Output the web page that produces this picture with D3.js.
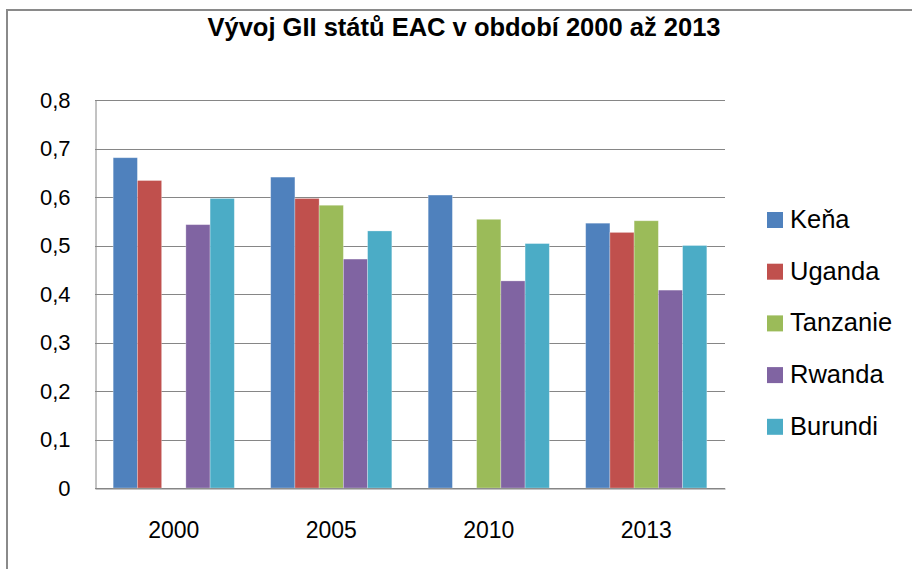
<!DOCTYPE html>
<html>
<head>
<meta charset="utf-8">
<script src="https://cdn.jsdelivr.net/npm/d3@7"></script>
<style>
  body { margin: 0; background: #fff; }
  text { font-family: "Liberation Sans", Arial, sans-serif; fill: #000; }
</style>
</head>
<body>
<div id="chart-area"></div>
<script>
var width = 912;
var height = 569;

// data
var years = ["2000", "2005", "2010", "2013"];
var countries = ["Keňa", "Uganda", "Tanzanie", "Rwanda", "Burundi"];
var colors = ["#4F81BD", "#C0504D", "#9BBB59", "#8064A2", "#4BACC6"];
var kena     = [0.681, 0.641, 0.604, 0.546];
var uganda   = [0.634, 0.597, null, 0.527];
var tanzanie = [null, 0.583, 0.554, 0.551];
var rwanda   = [0.543, 0.472, 0.427, 0.408];
var burundi  = [0.597, 0.530, 0.504, 0.500];
var yTicks = [0, 0.1, 0.2, 0.3, 0.4, 0.5, 0.6, 0.7, 0.8];

var series = [kena, uganda, tanzanie, rwanda, burundi];

var plot = {left: 95, right: 725, top: 100, bottom: 488};

var svg = d3.select("#chart-area").append("svg")
	.attr("width", width)
	.attr("height", height);

// outer chart frame
svg.append("rect")
	.attr("x", 7)
	.attr("y", 10)
	.attr("width", 940)
	.attr("height", 600)
	.attr("fill", "none")
	.attr("stroke", "#8a8a8a")
	.attr("stroke-width", 2);

svg.append("text")
	.attr("x", 464)
	.attr("y", 36)
	.attr("text-anchor", "middle")
	.attr("font-size", "25.5px")
	.attr("font-weight", "bold")
	.text("Vývoj GII států EAC v období 2000 až 2013");

var x0 = d3.scaleBand()
	.domain(years)
	.range([plot.left, plot.right]);

// 5 bars + gap of 1.5 bar widths per category
var bw = x0.bandwidth() / 6.5;
var x1 = d3.scaleBand()
	.domain(countries)
	.range([bw * 0.75, bw * 5.75]);

var y = d3.scaleLinear()
	.domain([0, 0.8])
	.range([plot.bottom, plot.top]);

// gridlines
svg.append("g")
	.selectAll("line")
	.data(yTicks)
	.enter()
	.append("line")
		.attr("x1", plot.left)
		.attr("x2", plot.right)
		.attr("y1", d => Math.round(y(d)) + 0.5)
		.attr("y2", d => Math.round(y(d)) + 0.5)
		.attr("stroke", "#868686")
		.attr("stroke-width", 1);

// bars
var rows = [];
years.forEach((yr, i) => {
	countries.forEach((c, j) => {
		if (series[j][i] != null) rows.push({year: yr, country: c, value: series[j][i], color: colors[j]});
	});
});

svg.append("g")
	.selectAll("rect")
	.data(rows)
	.enter()
	.append("rect")
		.attr("x", d => x0(d.year) + x1(d.country))
		.attr("y", d => y(d.value))
		.attr("width", x1.bandwidth())
		.attr("height", d => y(0) - y(d.value))
		.attr("fill", d => d.color)
		.attr("stroke", "rgba(255,255,255,0.35)")
		.attr("stroke-width", 0.8);

// left axis
var leftAxis = d3.axisLeft(y)
	.tickValues(yTicks)
	.tickSize(0)
	.tickPadding(25)
	.tickFormat(d => d === 0 ? "0" : d3.format(".1f")(d).replace(".", ","));
var ga = svg.append("g")
	.attr("transform", "translate(" + (plot.left + 0.5) + ",0)")
	.call(leftAxis);
ga.select(".domain").attr("stroke", "#868686");
ga.selectAll("text")
	.attr("font-size", "22px")
	.attr("font-family", "Liberation Sans, Arial, sans-serif")
	.attr("fill", "#000");

// bottom axis
var bottomAxis = d3.axisBottom(x0).tickSize(0).tickPadding(33);
var gb = svg.append("g")
	.attr("transform", "translate(0," + (plot.bottom + 0.5) + ")")
	.call(bottomAxis);
gb.select(".domain").attr("stroke", "#868686");
gb.selectAll("text")
	.attr("font-size", "23px")
	.attr("font-family", "Liberation Sans, Arial, sans-serif")
	.attr("fill", "#000");

// legend
var legend = svg.append("g")
	.selectAll("g")
	.data(countries)
	.enter()
	.append("g")
		.attr("transform", (d, i) => "translate(767," + (212 + i * 51.7) + ")");
legend.append("rect")
	.attr("width", 16)
	.attr("height", 16)
	.attr("fill", (d, i) => colors[i]);
legend.append("text")
	.attr("x", 23)
	.attr("y", 16)
	.attr("font-size", "25.5px")
	.text(d => d);
</script>
</body>
</html>
